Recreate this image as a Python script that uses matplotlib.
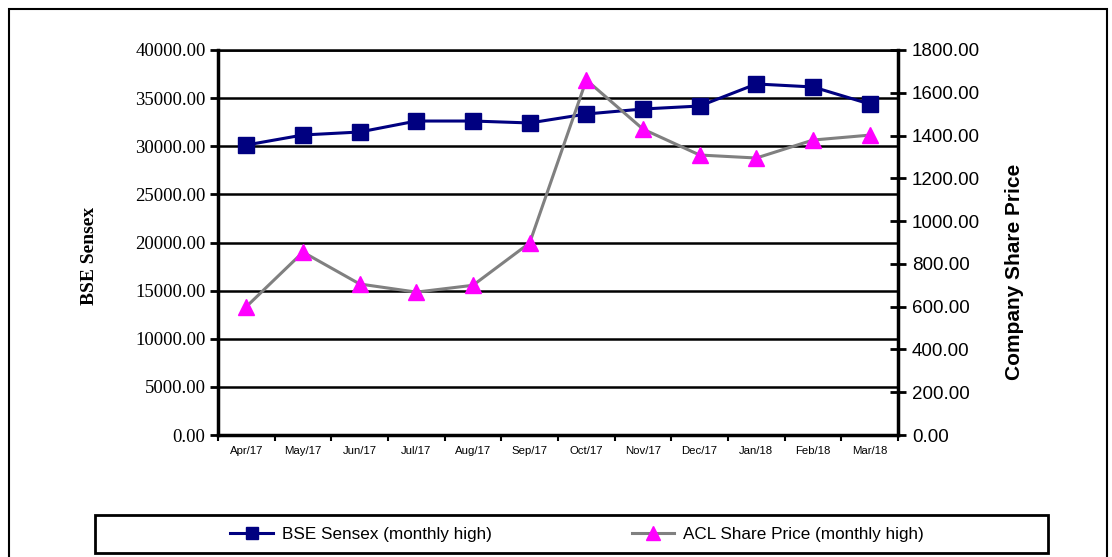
import matplotlib
matplotlib.use("Agg")
import matplotlib.pyplot as plt
from matplotlib.patches import Rectangle
from matplotlib.ticker import MultipleLocator, FuncFormatter

# monthly highs, Apr 2017 - Mar 2018
months = ['Apr/17', 'May/17', 'Jun/17', 'Jul/17', 'Aug/17', 'Sep/17',
          'Oct/17', 'Nov/17', 'Dec/17', 'Jan/18', 'Feb/18', 'Mar/18']
sensex = [30130, 31170, 31480, 32620, 32620, 32420,
          33350, 33870, 34180, 36470, 36160, 34390]
acl_price = [600, 855, 706, 668, 700, 898,
             1660, 1430, 1309, 1295, 1379, 1402]

fig = plt.figure(figsize=(11.12, 5.57), dpi=100)

# outer frame of the chart object
fig.patches.append(Rectangle((9 / 1112, -0.05), 1098 / 1112, 1 - 9 / 557 + 0.05,
                             transform=fig.transFigure, fill=False,
                             edgecolor='black', linewidth=1.5))

ax = fig.add_axes([218 / 1112, 122 / 557, 680 / 1112, 385 / 557])
ax2 = ax.twinx()

x = list(range(len(months)))
l1, = ax.plot(x, sensex, color='#000080', linewidth=2.2, marker='s',
              markersize=11, label='BSE Sensex (monthly high)', zorder=3)
l2, = ax2.plot(x, acl_price, color='#808080', linewidth=2.2, marker='^',
               markersize=12, markerfacecolor='#FF00FF', markeredgecolor='#FF00FF',
               label='ACL Share Price (monthly high)', zorder=3)

ax.set_xlim(-0.5, len(months) - 0.5)
ax.set_ylim(0, 40000)
ax2.set_ylim(0, 1800)

ax.yaxis.set_major_locator(MultipleLocator(5000))
ax2.yaxis.set_major_locator(MultipleLocator(200))
fmt = FuncFormatter(lambda v, p: f'{v:.2f}')
ax.yaxis.set_major_formatter(fmt)
ax2.yaxis.set_major_formatter(fmt)

ax.set_xticks(x)
ax.set_xticklabels(months, fontsize=8.2, family='Liberation Sans')
ax.set_xticks([i - 0.5 for i in range(len(months) + 1)], minor=True)
ax.tick_params(axis='x', which='major', length=0, pad=8)
ax.tick_params(axis='x', which='minor', length=4, width=1.5, direction='out')

ax.tick_params(axis='y', length=6, width=2, direction='out', pad=3)
for t in ax.get_yticklabels():
    t.set_family('Liberation Serif')
    t.set_fontsize(13.5)
ax2.tick_params(axis='y', length=12, width=2, direction='inout', pad=4)
for t in ax2.get_yticklabels():
    t.set_family('Liberation Sans')
    t.set_fontsize(13.5)

ax.grid(axis='y', color='black', linewidth=1.8)
ax.set_axisbelow(True)
for sp in ['left', 'bottom']:
    ax.spines[sp].set_linewidth(2.5)
ax.spines['top'].set_linewidth(1.8)
ax.spines['right'].set_visible(False)
ax2.spines['right'].set_linewidth(2.5)
for sp in ['left', 'top', 'bottom']:
    ax2.spines[sp].set_visible(False)

ax.set_ylabel('BSE Sensex', family='Liberation Serif', fontsize=14,
              fontweight='bold')
ax.yaxis.set_label_coords(-0.176, 0.465)
ax2.set_ylabel('Company Share Price', family='Liberation Sans', fontsize=15,
               fontweight='bold')
ax2.yaxis.set_label_coords(1.157, 0.423)

# legend box at the bottom
fig.patches.append(Rectangle((95 / 1112, 4 / 557), 953 / 1112, 38 / 557,
                             transform=fig.transFigure, fill=False,
                             edgecolor='black', linewidth=2))
fig.legend([l1, l2], [l1.get_label(), l2.get_label()], loc='center',
           bbox_to_anchor=(577 / 1112, 23 / 557), ncol=2, frameon=False,
           prop={'family': 'Liberation Sans', 'size': 12.3},
           handlelength=2.5, columnspacing=8.2, handletextpad=0.5, markerscale=0.8)

fig.savefig('out.png', dpi=100)
